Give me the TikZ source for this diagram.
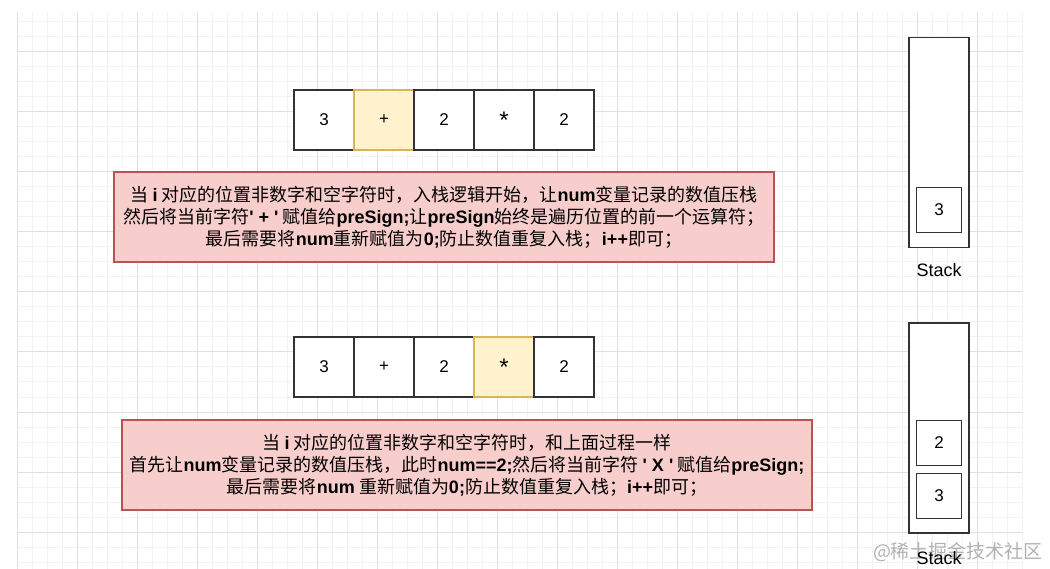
\documentclass[tikz,border=0pt]{standalone}
\usepackage{fontspec}
\setmainfont{Liberation Sans}
\newfontfamily\cjk{Noto Sans CJK SC}
\newfontfamily\latin{Liberation Sans}
\usetikzlibrary{positioning}
\definecolor{minorgrid}{HTML}{F3F3F3}
\definecolor{majorgrid}{HTML}{E0E0E0}
\definecolor{cellline}{HTML}{333333}
\definecolor{hlfill}{HTML}{FFF2CC}
\definecolor{hlline}{HTML}{D6B656}
\definecolor{notefill}{HTML}{F8CECC}
\definecolor{noteline}{HTML}{B85450}
\newcommand\eng[1]{{\latin\bfseries #1}}

\begin{document}
\begin{tikzpicture}[%
x=1pt, y=-1pt,
node distance=60pt,
on grid,
cell/.style={draw=cellline, fill=white, line width=1.2pt, minimum size=60pt,
  inner sep=0pt, font=\fontsize{17}{20}\selectfont},
hl/.style={cell, draw=hlline, fill=hlfill},
note/.style={draw=noteline, fill=notefill, line width=1.2pt, inner sep=0pt,
  align=center, font=\cjk\fontsize{18}{22}\selectfont},
stack/.style={draw=cellline, fill=white, line width=1.2pt, minimum width=60pt,
  minimum height=210pt, inner sep=0pt},
slot/.style={draw=cellline, fill=white, line width=1.2pt, minimum size=45pt,
  inner sep=0pt, font=\fontsize{17}{20}\selectfont},
stacklabel/.style={font=\fontsize{18}{20}\selectfont},
star/.style={font=\fontsize{24}{24}\selectfont}
]
\useasboundingbox (0,0) rectangle (1050,569);

% background grid
\foreach \gx in {17,32,...,1022} \draw[minorgrid, line width=1pt] (\gx,12) -- (\gx,569);
\foreach \gy in {22,37,...,562} \draw[minorgrid, line width=1pt] (17,\gy) -- (1022,\gy);
\foreach \gx in {17,77,...,1000} \draw[majorgrid, line width=1pt] (\gx,12) -- (\gx,569);
\foreach \gy in {52,112,...,540} \draw[majorgrid, line width=1pt] (17,\gy) -- (1022,\gy);

% step 1: i on '+'
\node[cell] (a1) at (324,120) {3};
\node[hl]   (a2) [right of=a1] {+};
\node[cell] (a3) [right of=a2] {2};
\node[cell, star] (a4) [right of=a3] {*};
\node[cell] (a5) [right of=a4] {2};

\node[note, minimum width=660pt, minimum height=90pt] (n1) [below=97pt of a3]
  {当 \eng{i} 对应的位置非数字和空字符时，入栈逻辑开始，让\eng{num}变量记录的数值压栈\\
   然后将当前字符\eng{' + '} 赋值给\eng{preSign;}让\eng{preSign}始终是遍历位置的前一个运算符；\\
   最后需要将\eng{num}重新赋值为\eng{0;}防止数值重复入栈；\eng{i++}即可；};

\node[stack] (st1) at (939,142.5) {};
\node[slot] (s11) [above=38pt of st1.south, anchor=center] {3};
\node[stacklabel] (l1) [below=22pt of st1.south, anchor=center] {Stack};

% step 2: i on '*'
\node[cell] (b1) at (324,367) {3};
\node[cell] (b2) [right of=b1] {+};
\node[cell] (b3) [right of=b2] {2};
\node[hl, star] (b4) [right of=b3] {*};
\node[cell] (b5) [right of=b4] {2};

\node[note, minimum width=690pt, minimum height=90pt] (n2) at (467,465)
  {当 \eng{i} 对应的位置非数字和空字符时，和上面过程一样\\
   首先让\eng{num}变量记录的数值压栈，此时\eng{num==2;}然后将当前字符 \eng{' X '} 赋值给\eng{preSign;}\\
   最后需要将\eng{num} 重新赋值为\eng{0;}防止数值重复入栈；\eng{i++}即可；};

\node[stack] (st2) at (939,428) {};
\node[slot] (s21) [above=38pt of st2.south, anchor=center] {3};
\node[slot] (s22) [above=53pt of s21] {2};

\node[font=\cjk\fontsize{19}{20}\selectfont, text=black!30] (wm) at (958,552) {@稀土掘金技术社区};
\node[stacklabel] (l2) [below=24pt of st2.south, anchor=center] {Stack};
\end{tikzpicture}
\end{document}
